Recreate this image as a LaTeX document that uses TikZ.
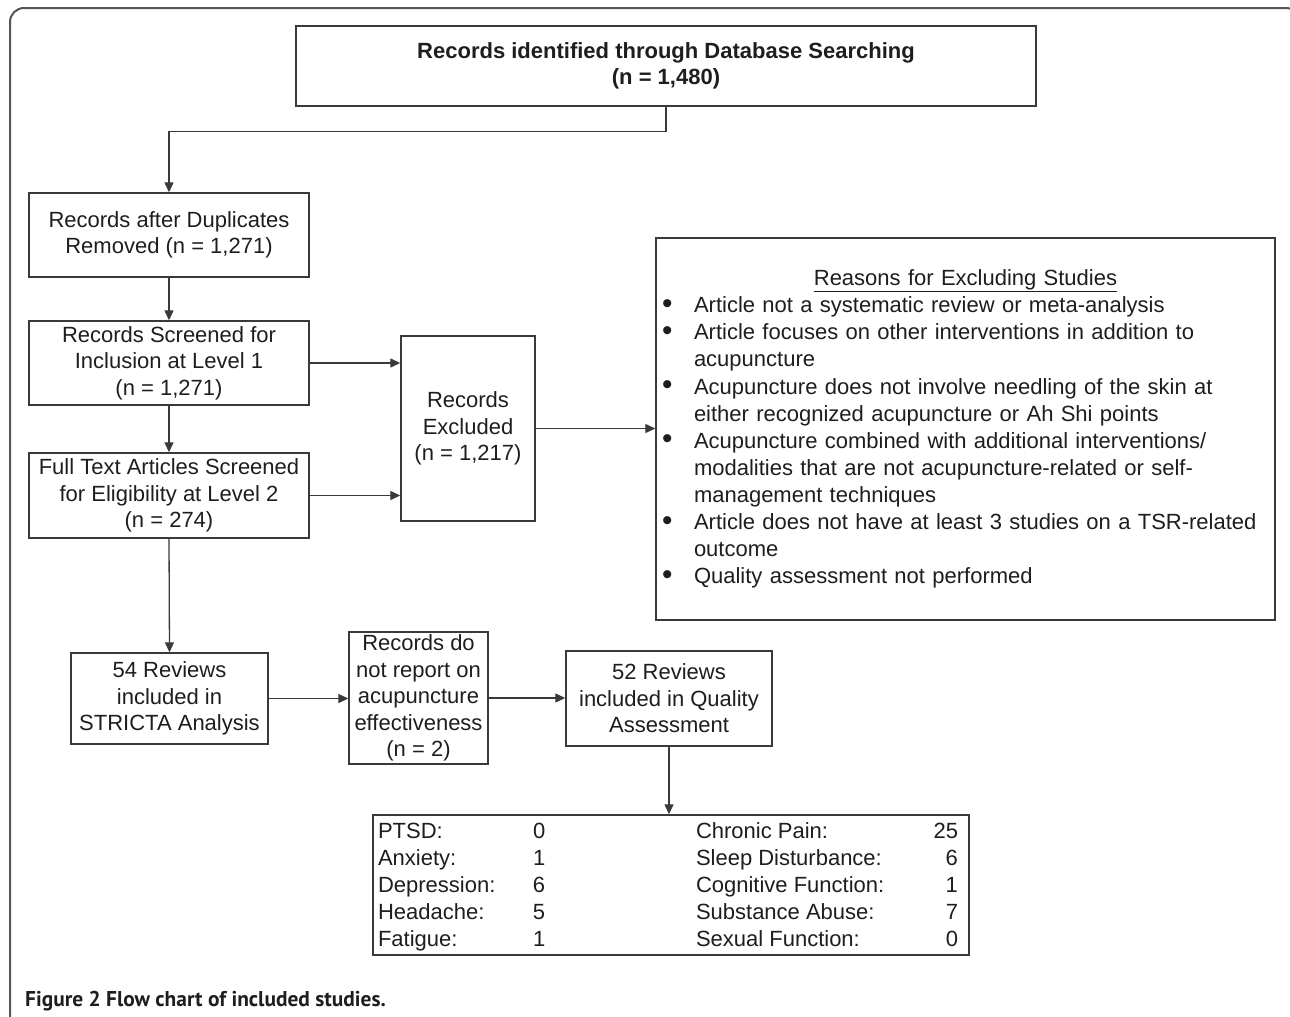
\documentclass[tikz,border=0pt]{standalone}
\usepackage{fontspec}
\setmainfont{Liberation Sans}
\newfontfamily\capfont{PT Sans}
\usetikzlibrary{arrows.meta}
\definecolor{ln}{HTML}{3A3A3A}
\definecolor{tx}{HTML}{1E1E1E}
\definecolor{frame}{HTML}{555555}
\newcommand{\bul}{\makebox[31pt][l]{\hspace*{-1pt}\raisebox{-0.5pt}{\scalebox{1.35}{\textbullet}}}}
\begin{document}
\begin{tikzpicture}[x=1pt,y=-1pt,
  box/.style={draw=ln, line width=1.4pt, inner sep=0pt, align=center, text=tx,
              font=\fontsize{22}{26.5}\selectfont},
  arr/.style={draw=ln, line width=1.3pt, -{Triangle[length=10pt,width=9pt]}}]
\clip (0,0) rectangle (1290,1017);
\fill[white] (0,0) rectangle (1290,1017);
\draw[line width=2pt, frame, rounded corners=14pt] (10,1040) -- (10,8) -- (1300,8) -- (1300,1040);

\node[box, minimum width=740pt, minimum height=80pt,
      font=\fontsize{22}{26.5}\selectfont\bfseries] (top) at (666,66)
  {Records identified through Database Searching\\(n = 1,480)};
\node[box, minimum width=280pt, minimum height=84pt] (dup) at (169,235)
  {Records after Duplicates\\Removed (n = 1,271)};
\node[box, minimum width=280pt, minimum height=84pt] (scr) at (169,363)
  {Records Screened for\\Inclusion at Level 1\\(n = 1,271)};
\node[box, minimum width=280pt, minimum height=85pt] (full) at (169,495.5)
  {Full Text Articles Screened\\for Eligibility at Level 2\\(n = 274)};
\node[box, minimum width=134pt, minimum height=185pt] (excl) at (468,428.5)
  {Records\\Excluded\\(n = 1,217)};
\node[box, minimum width=619pt, minimum height=382pt, text width=605pt, align=left,
      font=\fontsize{22}{27.1}\selectfont] (reasons) at (965.5,429)
  {\makebox[605pt][c]{\underline{Reasons for Excluding Studies}}\\
   \bul Article not a systematic review or meta-analysis\\
   \bul Article focuses on other interventions in addition to\\
   \hspace*{31pt}acupuncture\\
   \bul Acupuncture does not involve needling of the skin at\\
   \hspace*{31pt}either recognized acupuncture or Ah Shi points\\
   \bul Acupuncture combined with additional interventions/\\
   \hspace*{31pt}modalities that are not acupuncture-related or self-\\
   \hspace*{31pt}management techniques\\
   \bul Article does not have at least 3 studies on a TSR-related\\
   \hspace*{31pt}outcome\\
   \bul Quality assessment not performed};
\node[box, minimum width=197pt, minimum height=91pt] (r54) at (169.5,698.5)
  {54 Reviews\\included in\\STRICTA Analysis};
\node[box, minimum width=139pt, minimum height=132pt] (donot) at (418.5,698)
  {Records do\\not report on\\acupuncture\\effectiveness\\(n = 2)};
\node[box, minimum width=206pt, minimum height=95pt] (r52) at (669,698.5)
  {52 Reviews\\included in Quality\\Assessment};
\node[box, minimum width=596pt, minimum height=140pt, align=left,
      font=\fontsize{22}{27}\selectfont] (bot) at (671,885)
  {\raisebox{0pt}[\dimexpr\height+5pt\relax][\depth]{\begin{tabular}{@{}p{155pt}@{}p{163pt}@{}p{262pt}@{\hspace{6pt}}}
   PTSD: & 0 & Chronic Pain:\hfill 25\\
   Anxiety: & 1 & Sleep Disturbance:\hfill 6\\
   Depression: & 6 & Cognitive Function:\hfill 1\\
   Headache: & 5 & Substance Abuse:\hfill 7\\
   Fatigue: & 1 & Sexual Function:\hfill 0
   \end{tabular}}};

\node[anchor=base west, inner sep=0pt, text=tx,
      font=\capfont\bfseries\fontsize{21.4}{25}\selectfont] (cap) at (25,1006.5)
  {Figure 2 Flow chart of included studies.};

\draw[arr] (top.south) -- ++(0,25) -| (dup.north);
\draw[arr] (dup.south) -- (scr.north);
\draw[arr] (scr.south) -- (full.north);
\draw[arr] (scr.east) -- (scr.east -| excl.west);
\draw[arr] (full.east) -- (full.east -| excl.west);
\draw[arr] (excl.east) -- (excl.east -| reasons.west);
\draw[arr] (full.south) -- (r54.north);
\draw[arr] (r54.east) -- (r54.east -| donot.west);
\draw[arr] (donot.east) -- (donot.east -| r52.west);
\draw[arr] (r52.south) -- (r52.south |- bot.north);
\end{tikzpicture}
\end{document}
